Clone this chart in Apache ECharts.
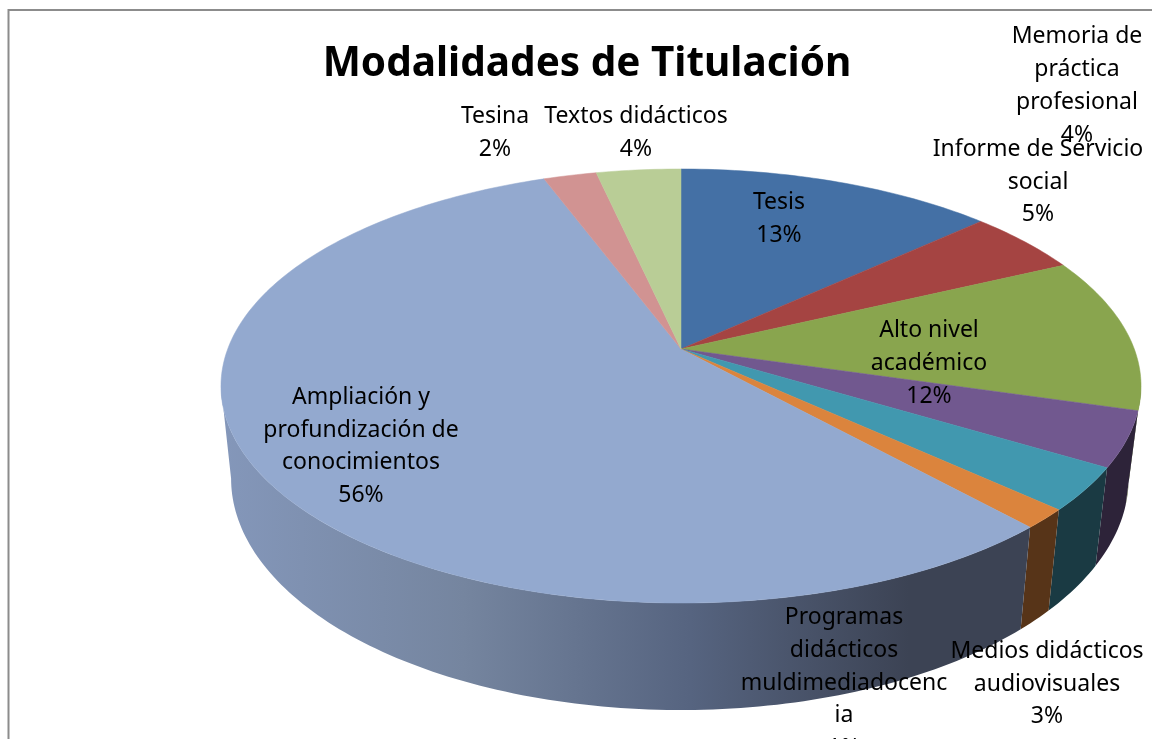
<!DOCTYPE html>
<html>
<head>
<meta charset="utf-8">
<title>Modalidades de Titulación</title>
<script src="https://cdn.jsdelivr.net/npm/echarts@6/dist/echarts.min.js"></script>
<style>
html, body { margin: 0; padding: 0; background: #fff; overflow: hidden; }
#chart { width: 1152px; height: 739px; }
</style>
</head>
<body>
<div id="chart"></div>
<script>
var titleText = 'Modalidades de Titulación';
var categories = [
  'Tesis',
  'Informe de Servicio\nsocial',
  'Alto nivel\nacadémico',
  'Memoria de\npráctica\nprofesional',
  'Medios didácticos\naudiovisuales',
  'Programas\ndidácticos\nmuldimediadocenc\nia',
  'Ampliación y\nprofundización de\nconocimientos',
  'Tesina',
  'Textos didácticos'
];
var shares = [13.2, 4.8, 11.5, 4.1, 3.2, 1.45, 56.05, 2.2, 3.5];
var topColors = ['#4470a5', '#a54442', '#89a54e', '#71588f', '#4198af', '#db843d', '#93a9cf', '#d19392', '#b9cd96'];
var sideColors = ['#2b4566', '#662a29', '#55662f', '#2d2339', '#1a3a43', '#573418', null, '#815b5a', '#727f5d'];

// label centres, in px
var labelX = [779, 1038, 929, 1077, 1047, 844, 361, 495, 636];
var labelY = [219, 182, 363.5, 86, 684, 683, 446.5, 133, 133];

// the tilted disc: a circle seen in perspective
var cx = 681, cy = 349;
var radiusX = 453.3, radiusY = 210.7, tilt = 0.1705;
var shrinkLeft = 0.978, shrinkRight = 0.973, wallDrop = 90, wallStretch = 1.067;
// where the rim turns away from us, left and right
var edgeDeg = Math.acos(-tilt) * 180 / Math.PI;

function rim(deg) {
  var a = deg * Math.PI / 180;
  var u = Math.sin(a), v = -Math.cos(a);
  var d = 1 - tilt * v;
  return [cx + radiusX * u / d, cy + radiusY * v / d];
}
function lowerRim(deg) {
  var p = rim(deg);
  var s = p[0] < cx ? shrinkLeft : shrinkRight;
  return [cx + (p[0] - cx) * s, cy + wallDrop + (p[1] - cy) * wallStretch];
}
function arc(fn, from, to) {
  var pts = [];
  var n = Math.max(2, Math.ceil(Math.abs(to - from)));
  for (var i = 0; i <= n; i++) {
    pts.push(fn(from + (to - from) * i / n));
  }
  return pts;
}

var total = shares.reduce(function (s, x) { return s + x; }, 0);
var starts = [];
shares.reduce(function (s, x) { starts.push(s); return s + x; }, 0);

function renderSlice(params, api) {
  var i = params.dataIndex;
  var from = api.value(0) / total * 360;
  var to = from + api.value(1) / total * 360;
  var children = [];

  // side wall, only the part facing us
  var wallFrom = Math.max(from, edgeDeg), wallTo = Math.min(to, 360 - edgeDeg);
  if (wallTo > wallFrom) {
    var wallFill = sideColors[i] || new echarts.graphic.LinearGradient(0, 0, 1, 0, [
      { offset: 0, color: '#8497ba' },
      { offset: 0.3, color: '#75859f' },
      { offset: 0.58, color: '#566480' },
      { offset: 0.85, color: '#3c4354' },
      { offset: 1, color: '#3c4354' }
    ]);
    children.push({
      type: 'polygon',
      z2: 1,
      shape: { points: arc(rim, wallFrom, wallTo).concat(arc(lowerRim, wallTo, wallFrom)) },
      style: { fill: wallFill }
    });
  }

  children.push({
    type: 'polygon',
    z2: 2,
    shape: { points: [[cx, cy]].concat(arc(rim, from, to)) },
    style: { fill: topColors[i], stroke: topColors[i], lineWidth: 0.5 }
  });

  children.push({
    type: 'text',
    z2: 3,
    x: labelX[i],
    y: labelY[i],
    style: {
      text: categories[i] + '\n' + Math.round(api.value(1)) + '%',
      fill: '#000',
      font: '23px "Noto Sans"',
      lineHeight: 32.9,
      align: 'center',
      verticalAlign: 'middle'
    }
  });
  return { type: 'group', children: children };
}

var chart = echarts.init(document.getElementById('chart'), null, { renderer: 'canvas' });
chart.setOption({
  animation: false,
  backgroundColor: '#fff',
  title: {
    text: titleText,
    left: 582,
    top: 39,
    textAlign: 'center',
    textStyle: { fontFamily: 'Noto Sans', fontWeight: 'bold', fontSize: 40.5, color: '#000' }
  },
  graphic: [{
    type: 'rect',
    silent: true,
    z: -1,
    shape: { x: 8.5, y: 10, width: 1300, height: 900 },
    style: { fill: 'none', stroke: '#8c8c8c', lineWidth: 2 }
  }],
  series: [{
    type: 'custom',
    coordinateSystem: 'none',
    renderItem: renderSlice,
    data: shares.map(function (s, i) { return [starts[i], s]; })
  }]
});
</script>
</body>
</html>
